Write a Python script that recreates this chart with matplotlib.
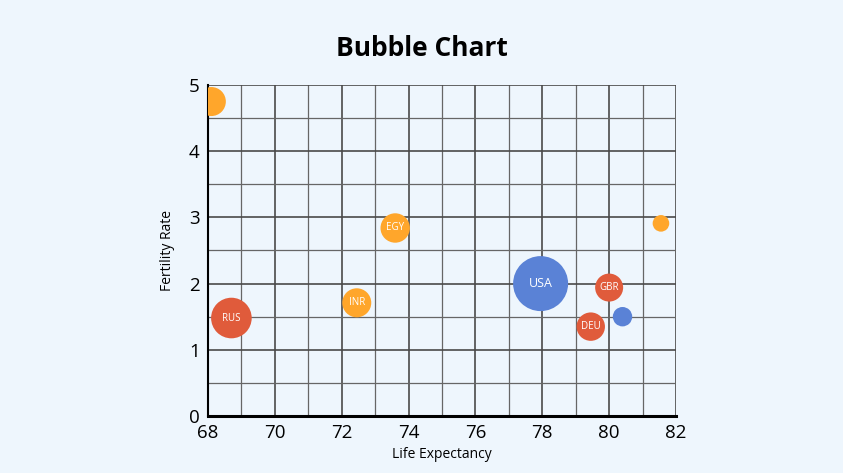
import matplotlib
matplotlib.use("Agg")
import matplotlib.pyplot as plt
from matplotlib.ticker import MultipleLocator

plt.rcParams['font.family'] = ['Open Sans', 'DejaVu Sans']

life_exp = [68.1, 73.6, 77.95, 80.0, 79.45, 80.4, 81.55, 68.7, 72.45]
fertility = [4.75, 2.84, 2.0, 1.94, 1.35, 1.5, 2.91, 1.48, 1.71]
radius_px = [14.5, 14.7, 27.5, 14.0, 14.2, 9.7, 8.3, 20.3, 14.5]
labels = ["", "EGY", "USA", "GBR", "DEU", "", "", "RUS", "INR"]
groups = ["orange", "orange", "blue", "red", "red", "blue", "orange", "red", "orange"]
palette = {"orange": "#FFA62B", "blue": "#5A82D6", "red": "#E05B3B"}

bg = "#EEF6FD"
fig = plt.figure(figsize=(8.43, 4.73), dpi=100, facecolor=bg)
ax = fig.add_axes([208/843, 1-416/473, (676-208)/843, (416-85)/473])
ax.set_facecolor(bg)

ax.set_xlim(68, 82)
ax.set_ylim(0, 5)
ax.xaxis.set_major_locator(MultipleLocator(2))
ax.xaxis.set_minor_locator(MultipleLocator(1))
ax.yaxis.set_major_locator(MultipleLocator(1))
ax.yaxis.set_minor_locator(MultipleLocator(0.5))
ax.grid(which='major', color='#4a4a4a', linewidth=1.2)
ax.grid(which='minor', color='#666666', linewidth=0.9)
ax.set_axisbelow(True)

sizes = [(2 * r * 0.72) ** 2 for r in radius_px]
colors = [palette[g] for g in groups]
ax.scatter(life_exp, fertility, s=sizes, c=colors, linewidths=0, zorder=3)
for x, y, lab, r in zip(life_exp, fertility, labels, radius_px):
    if lab:
        ax.text(x, y, lab, color='white', ha='center', va='center',
                fontsize=9 if r > 20 and lab == "USA" else 7, zorder=4)

for side in ['top', 'right']:
    ax.spines[side].set_visible(False)
ax.spines['left'].set_color('black')
ax.spines['left'].set_linewidth(1.5)
ax.spines['bottom'].set_color('black')
ax.spines['bottom'].set_linewidth(2.2)
ax.tick_params(which='both', length=0, labelsize=13.5, pad=6)

ax.set_xlabel("Life Expectancy", fontsize=10, labelpad=3)
ax.set_ylabel("Fertility Rate", fontsize=10, labelpad=10)
fig.suptitle("Bubble Chart", fontsize=19, fontweight='bold', y=0.925)

fig.savefig("out.png", dpi=100, facecolor=bg)
